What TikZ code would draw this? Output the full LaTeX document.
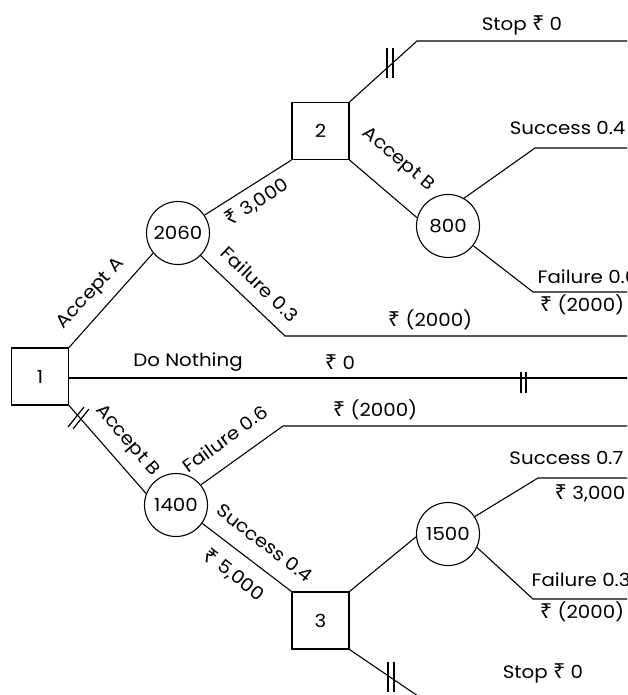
\documentclass[tikz,border=0pt]{standalone}
\usepackage{fontspec}
\setmainfont{Poppins}[FakeStretch=1.1]
\newfontfamily\rupeefont{Noto Sans}[FakeStretch=1.05,Scale=1.15]
\newcommand{\Rs}{{\rupeefont ₹}}
\begin{document}
\begin{tikzpicture}[x=1pt,y=-1pt,
  line width=1.1pt,
  every node/.style={font=\fontsize{18}{21}\selectfont, inner sep=1pt},
  decbox/.style={draw, minimum width=57pt, minimum height=57pt, inner sep=0pt},
  chance/.style={draw, circle, minimum size=63pt, inner sep=0pt},
  lbl/.style={inner sep=0pt},
  bar/.style={line width=1.2pt}]
\useasboundingbox (0,0) rectangle (627,695);
\clip (0,0) rectangle (627,695);

% decision and chance nodes
\node[decbox] (n1) at (40,376.5) {1};
\node[decbox] (n2) at (320.5,131) {2};
\node[decbox] (n3) at (320.5,620.5) {3};
\node[chance] (c2060) at (178,233) {2060};
\node[chance] (c800) at (448,226) {800};
\node[chance] (c1400) at (176,505) {1400};
\node[chance] (c1500) at (448,534) {1500};

% free ends
\coordinate (f3a) at (285,336); \coordinate (f3b) at (640,336);
\coordinate (s2a) at (417,41);  \coordinate (s2b) at (640,41);
\coordinate (s4a) at (535,148); \coordinate (s4b) at (640,148);
\coordinate (f6a) at (533,292); \coordinate (f6b) at (640,292);
\coordinate (dn) at (640,378);
\coordinate (f6c) at (283,426); \coordinate (f6d) at (640,426);
\coordinate (s7a) at (538,478); \coordinate (s7b) at (640,478);
\coordinate (f3c) at (533,599); \coordinate (f3d) at (640,599);
\coordinate (s3) at (440,711);

% connectors
\draw (n1.north east) -- (c2060.219);
\draw (c2060.34) -- (n2.south west);
\draw (c2060.-45) -- (f3a) -- (f3b);
\draw (n2.north east) -- (s2a) -- (s2b);
\draw (n2.south east) -- (c800.165);
\draw (c800.60) -- (s4a) -- (s4b);
\draw (c800.-38) -- (f6a) -- (f6b);
\draw (n1.east |- dn) -- (dn);
\draw (n1.south east) -- (c1400.159);
\draw (c1400.39) -- (f6c) -- (f6d);
\draw (c1400.-35) -- (n3.north west);
\draw (n3.north east) -- (c1500.185);
\draw (c1500.33) -- (s7a) -- (s7b);
\draw (c1500.-25) -- (f3c) -- (f3d);
\draw (n3.south east) -- (s3);

% blocking bars
\draw[bar] (387,48) -- (387,78);
\draw[bar] (393,48) -- (393,78);
\draw[bar] (388,662) -- (388,692);
\draw[bar] (394,662) -- (394,692);
\draw[bar] (521,372) -- (521,393);
\draw[bar] (526,372) -- (526,393);
\draw[bar] (68,427) -- (84,407);
\draw[bar] (73,429) -- (89,409);

% straight labels
\node[lbl] (tStop1) at (522,25) {Stop \Rs{} 0};
\node[lbl, anchor=east] (tSucc4) at (626,128) {Success 0.4};
\node[lbl, anchor=west] (tFail6a) at (537,277) {Failure 0.6};
\node[lbl] (tR2000a) at (582,305) {\Rs{} (2000)};
\node[lbl] (tR2000b) at (430,320) {\Rs{} (2000)};
\node[lbl] (tDo) at (188,362) {Do Nothing};
\node[lbl] (tR0) at (340,362) {\Rs{} 0};
\node[lbl] (tR2000c) at (375,410) {\Rs{} (2000)};
\node[lbl, anchor=east] (tSucc7) at (624,458) {Success 0.7};
\node[lbl] (tR3000b) at (590,493) {\Rs{} 3,000};
\node[lbl, anchor=west] (tFail3b) at (531,580) {Failure 0.3};
\node[lbl] (tR2000d) at (582,612) {\Rs{} (2000)};
\node[lbl] (tStop2) at (543,673) {Stop \Rs{} 0};

% sloped labels
\node[lbl, rotate=47] (tAccA) at (91,294) {Accept A};
\node[lbl, rotate=33] (tR3000a) at (257,202) {\Rs{} 3,000};
\node[lbl, rotate=-44] (tFail3a) at (260,284) {Failure 0.3};
\node[lbl, rotate=-40] (tAccB1) at (398,160) {Accept B};
\node[lbl, rotate=-49] (tAccB2) at (127,441) {Accept B};
\node[lbl, rotate=36] (tFail6b) at (225,439) {Failure 0.6};
\node[lbl, rotate=-37.5] (tSucc4b) at (265,543) {Success 0.4};
\node[lbl, rotate=-37.5] (tR5000) at (234,575) {\Rs{} 5,000};
\end{tikzpicture}
\end{document}
